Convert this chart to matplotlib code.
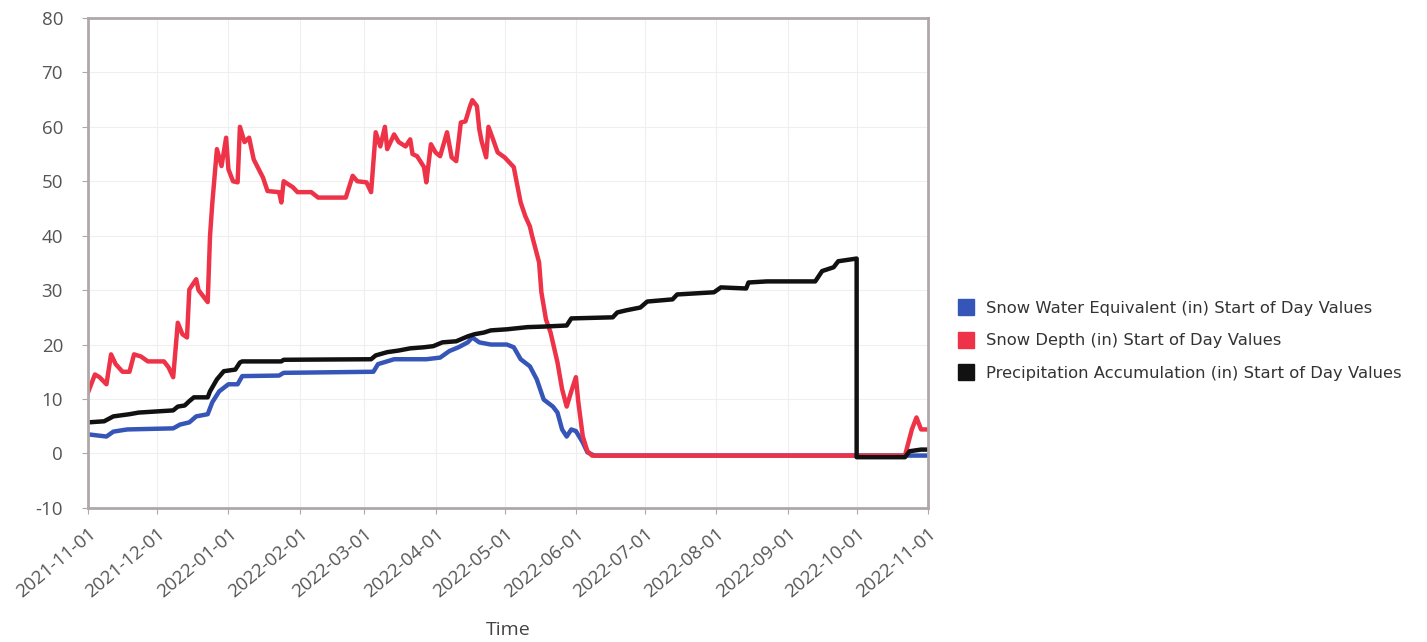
import matplotlib.pyplot as plt
from matplotlib.lines import Line2D
from matplotlib.ticker import FuncFormatter
import numpy as np

start = np.datetime64('2021-11-01')

# Snow depth (in), day offsets from 2021-11-01
red_days = [0, 3, 5, 8, 10, 12, 15, 18, 20, 23, 26, 33, 35, 37, 39, 41, 43, 44, 47, 48,
            50, 52, 53, 54, 56, 58, 60, 61, 63, 65, 66, 68, 70, 72, 76, 78, 83, 84, 85, 89,
            91, 97, 100, 112, 115, 117, 121, 123, 125, 127, 129, 130, 133, 135, 138, 140, 141, 143, 146, 147,
            149, 151, 153, 156, 158, 160, 162, 164, 166, 167, 169, 170, 171, 173, 174, 176, 178, 181, 185, 186,
            188, 190, 192, 193, 196, 197, 199, 201, 204, 206, 208, 210, 212, 213, 215, 217, 219, 355, 358, 360,
            362, 365]
red_vals = [11.2, 14.5, 14, 12.7, 18.2, 16.4, 15, 15, 18.2, 17.8, 16.9, 16.9, 15.8, 14, 24, 21.9, 21.3, 30.1, 32, 30,
            28.9, 27.8, 39.9, 46, 55.9, 52.8, 58, 52.2, 50, 49.8, 60, 57.2, 58, 54, 50.7, 48.2, 48, 46.1, 50, 48.9,
            48, 48, 47, 47, 51, 50, 49.8, 48, 59, 56.4, 60, 55.9, 58.6, 57.2, 56.4, 57.7, 55, 54.6, 52.6, 49.8,
            56.8, 55.3, 54.6, 59, 54.4, 53.7, 60.8, 61, 63.8, 64.9, 63.8, 59.6, 57.4, 54.4, 60, 57.7, 55.3, 54.4, 52.6, 50.4,
            46.1, 43.6, 41.7, 39.9, 35.1, 29.6, 24.6, 22.2, 16.7, 11.8, 8.6, 11.4, 14, 9.6, 3.1, 0.4, -0.4, -0.4, 4.4, 6.6,
            4.4, 4.4]

# Snow water equivalent (in)
blue_days = [0, 8, 11, 17, 37, 40, 44, 47, 52, 54, 57, 61, 65, 67, 83, 85, 124, 126, 133, 147,
             153, 157, 161, 165, 167, 170, 175, 182, 185, 188, 192, 195, 198, 202, 204, 206, 208, 210, 212, 215,
             217, 220, 365]
blue_vals = [3.5, 3.1, 4, 4.4, 4.6, 5.3, 5.7, 6.8, 7.2, 9.4, 11.4, 12.7, 12.7, 14.2, 14.3, 14.8, 15, 16.4, 17.3, 17.3,
             17.6, 18.8, 19.5, 20.4, 21.3, 20.4, 20, 20, 19.5, 17.3, 16, 13.6, 9.9, 8.6, 7.5, 4.4, 3.1, 4.4, 4.1, 2,
             0.2, -0.4, -0.4]

# Precipitation accumulation (in)
black_days = [0, 7, 11, 18, 22, 37, 39, 42, 44, 46, 52, 53, 56, 59, 64, 66, 67, 84, 85, 123,
              125, 130, 135, 140, 146, 150, 154, 160, 165, 168, 172, 175, 182, 191, 198, 208, 210, 228, 230, 234,
              240, 243, 254, 256, 272, 275, 286, 287, 295, 316, 319, 324, 326, 334, 334, 355, 357, 362, 365]
black_vals = [5.7, 5.9, 6.8, 7.2, 7.5, 7.9, 8.6, 8.8, 9.6, 10.3, 10.3, 11.4, 13.6, 15.1, 15.4, 16.7, 16.9, 16.9, 17.2, 17.3,
              18, 18.6, 18.9, 19.3, 19.5, 19.7, 20.4, 20.6, 21.5, 21.9, 22.2, 22.6, 22.8, 23.2, 23.3, 23.5, 24.8, 25, 25.9, 26.3,
              26.8, 27.9, 28.3, 29.2, 29.6, 30.5, 30.3, 31.4, 31.6, 31.6, 33.5, 34.2, 35.3, 35.8, -0.7, -0.7, 0.4, 0.7, 0.7]

series_labels = ["Snow Water Equivalent (in) Start of Day Values",
                 "Snow Depth (in) Start of Day Values",
                 "Precipitation Accumulation (in) Start of Day Values"]
tick_dates = ['2021-11-01', '2021-12-01', '2022-01-01', '2022-02-01', '2022-03-01', '2022-04-01', '2022-05-01',
              '2022-06-01', '2022-07-01', '2022-08-01', '2022-09-01', '2022-10-01', '2022-11-01']

c_blue = '#3556b8'
c_red = '#ee3348'
c_black = '#111111'


def to_dates(days):
    return start + np.array(days).astype('timedelta64[D]')


fig = plt.figure(figsize=(14.27, 6.42), dpi=100)
ax = fig.add_axes([0.0617, 0.209, 0.5886, 0.763])

ax.plot(to_dates(blue_days), blue_vals, color=c_blue, lw=3.2)
ax.plot(to_dates(red_days), red_vals, color=c_red, lw=3.2)
ax.plot(to_dates(black_days), black_vals, color=c_black, lw=3.2)

ticks = np.array(tick_dates, dtype='datetime64[D]')
ax.set_xlim(ticks[0], ticks[-1])
ax.set_xticks(ticks)
ax.set_xticklabels(tick_dates, rotation=40, ha='right', rotation_mode='anchor',
                   fontsize=13.5, color='#555555', family='Open Sans')
ax.set_ylim(-10, 80)
ax.set_yticks(range(-10, 81, 10))
ax.yaxis.set_major_formatter(FuncFormatter(lambda v, p: '%d' % v))
ax.tick_params(axis='y', labelsize=13.5, labelcolor='#555555', length=4, color='#aaaaaa', pad=14)
ax.tick_params(axis='x', length=4, color='#aaaaaa', pad=8)
for lab in ax.get_yticklabels():
    lab.set_family('Open Sans')
ax.grid(True, color='#efefef', lw=0.8)
for s in ax.spines.values():
    s.set_color('#b0a8a8')
    s.set_linewidth(2)
ax.set_xlabel('Time', fontsize=14, color='#444444', family='Open Sans', labelpad=14)

handles = [Line2D([], [], marker='s', ls='none', color=c, markersize=12)
           for c in (c_blue, c_red, c_black)]
fig.legend(handles, series_labels, loc='center left', bbox_to_anchor=(0.660, 0.469),
           frameon=False, fontsize=11.8, labelspacing=1.05, handletextpad=0.6,
           labelcolor='#333333', handlelength=1.2)

fig.savefig('out.png', dpi=100)
